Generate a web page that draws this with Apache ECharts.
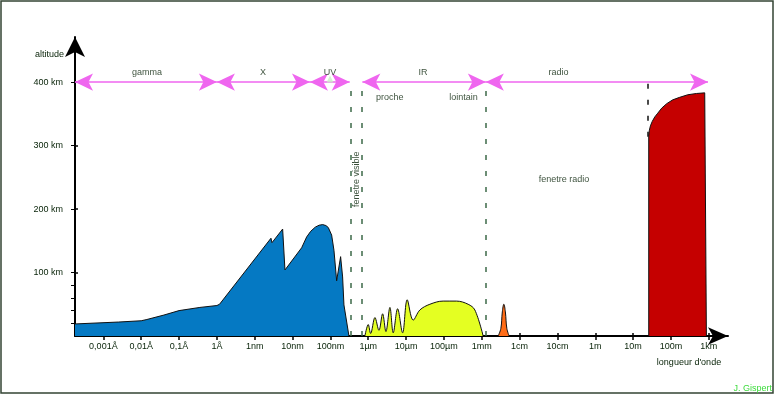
<!DOCTYPE html>
<html><head><meta charset="utf-8">
<script src="https://cdn.jsdelivr.net/npm/echarts@6/dist/echarts.min.js"></script>
<style>html,body{margin:0;padding:0;background:#fff}#c{width:777px;height:396px}</style>
</head><body><div id="c"></div>
<script>
// x values are log10(wavelength in metres), y values are altitude in km
const tickExponents = [-13,-12,-11,-10,-9,-8,-7,-6,-5,-4,-3,-2,-1,0,1,2,3];
const tickLabels = ['0,001Å','0,01Å','0,1Å','1Å','1nm','10nm','100nm','1µm','10µm','100µm','1mm','1cm','10cm','1m','10m','100m','1km'];
const altitudeTicks = [100,200,300,400];
const altitudeMinorTicks = [20,40,60,80];

const blueAbsorption = [[-13.75,19],[-12.6,22],[-12.0,24],[-11.85,26],[-11.4,33],[-11.0,40],[-10.45,45],[-10.0,48],[-9.93,50],
  [-8.571,154],[-8.544,147],[-8.262,168.5],[-8.201,104],[-7.76,139],[-7.628,156],[-7.52,165],[-7.40,171.5],[-7.30,174.5],[-7.205,175.5],[-7.12,174],[-7.057,171],
  [-6.967,159],[-6.906,135],[-6.835,87],[-6.73,125],[-6.677,93],[-6.642,49],[-6.608,52],[-6.51,0]];
const yellowAbsorption = [[-6.088,0],[-6.0,18],[-5.937,4],[-5.823,29],[-5.717,9],[-5.62,35],[-5.533,7],[-5.427,45],[-5.34,5],
  [-5.224,43],[-5.092,5],[-4.97,57],[-4.812,25],[-4.635,41],[-4.371,50],[-4.02,55],[-3.666,55],[-3.36,50],[-3.182,41],[-2.963,0]];
const orangeAbsorption = [[-2.567,0],[-2.495,12],[-2.456,38],[-2.416,50],[-2.376,38],[-2.337,12],[-2.276,0]];
const redAbsorption = [[1.413,0],[1.413,314],[1.429,324],[1.458,331],[1.506,338],[1.572,345],[1.651,351],[1.757,359],[1.889,366],
  [2.047,372],[2.232,376],[2.444,380],[2.673,382],[2.893,383],[2.937,381],[2.937,0]];

const bandNames = ['gamma','X','UV','IR','radio'];
const bandRanges = [[-13.75,-10.0],[-10.0,-7.54],[-7.54,-6.49],[-6.155,-2.892],[-2.892,2.98]];
const bandLabelX = [-11.85,-8.78,-7.01,-4.55,-0.97];
const bandLevel = 400;
const bandLabelLevel = 415;
const windowLines = [-6.466,-6.167,-2.892];
const radioEdge = 1.40;
const radioEdgeTop = 314;
const notes = [
  {text:'proche', x:-5.434, y:376, rotate:0},
  {text:'lointain', x:-3.48, y:376, rotate:0},
  {text:'fenetre radio', x:-0.824, y:247, rotate:0},
  {text:'fenetre visible', x:-6.318, y:247, rotate:90}
];

const TXT = '#072207';
const FONT = 'Liberation Sans';

function area(data, color, smooth) {
  return {type:'line', data, symbol:'none', smooth: smooth || false, silent:true, z:2,
    lineStyle:{color:'#111', width:1}, areaStyle:{color, opacity:1}};
}

const chart = echarts.init(document.getElementById('c'), null, {renderer:'canvas'});
const xCommon = {type:'value', min:-13.75, max:3.508, splitLine:{show:false}, position:'bottom'};
const yCommon = {type:'value', min:0, max:471, splitLine:{show:false}, position:'left'};

chart.setOption({
  animation:false,
  backgroundColor:'#ffffff',
  grid:{left:75, right:49, top:37, bottom:60, containLabel:false},
  xAxis:[
    Object.assign({}, xCommon, {
      name:"longueur d'onde", nameLocation:'end', nameGap:-39,
      nameTextStyle:{color:TXT, fontFamily:FONT, fontSize:9, align:'center', verticalAlign:'top', padding:[22,0,0,0]},
      axisLine:{show:true, onZero:false, symbol:['none','arrow'], symbolSize:[13,20], lineStyle:{color:'#000', width:2}},
      axisTick:{show:true, customValues:tickExponents, length:4, lineStyle:{color:'#000', width:1.5}},
      axisLabel:{show:true, customValues:tickExponents, margin:6, color:TXT, fontFamily:FONT, fontSize:9,
        formatter:v => tickLabels[tickExponents.indexOf(Math.round(v))] || ''}
    }),
    Object.assign({}, xCommon, {
      axisLine:{show:false, onZero:false}, axisLabel:{show:false},
      axisTick:{show:true, inside:true, customValues:tickExponents, length:3, lineStyle:{color:'#000', width:1.5}}
    })
  ],
  yAxis:[
    Object.assign({}, yCommon, {
      name:'altitude', nameLocation:'end', nameGap:-18,
      nameTextStyle:{color:TXT, fontFamily:FONT, fontSize:9, align:'right', verticalAlign:'middle', padding:[0,11,0,0]},
      axisLine:{show:true, onZero:false, symbol:['none','arrow'], symbolSize:[15,20], lineStyle:{color:'#000', width:2}},
      axisTick:{show:true, customValues:altitudeMinorTicks.concat(altitudeTicks), length:4, lineStyle:{color:'#000', width:1}},
      axisLabel:{show:true, customValues:altitudeTicks, margin:12, color:TXT, fontFamily:FONT, fontSize:9,
        formatter:v => v + ' km'}
    }),
    Object.assign({}, yCommon, {
      axisLine:{show:false, onZero:false}, axisLabel:{show:false},
      axisTick:{show:true, inside:true, customValues:altitudeTicks, length:3, lineStyle:{color:'#000', width:1.5}}
    })
  ],
  series:[
    area(blueAbsorption, '#0579c3'),
    area(yellowAbsorption, '#e4ff22', 0.35),
    area(orangeAbsorption, '#ff6c17', 0.4),
    area(redAbsorption, '#c50000'),
    {
      type:'scatter', data:[], silent:true, z:5,
      markLine:{
        silent:true, animation:false, symbol:['arrow','arrow'], symbolSize:[13,18],
        label:{show:false},
        lineStyle:{color:'#ef66ef', width:1.5, type:'solid'},
        data: bandRanges.map(r => [{coord:[r[0], bandLevel]}, {coord:[r[1], bandLevel]}])
      }
    },
    {
      type:'scatter', data:[], silent:true, z:4,
      markLine:{
        silent:true, animation:false, symbol:['none','none'], label:{show:false},
        lineStyle:{color:'#3d6a48', width:1.5, type:[5,11]},
        data: windowLines.map(x => [{coord:[x, 0]}, {coord:[x, bandLevel]}])
          .concat([[{coord:[radioEdge, radioEdgeTop], lineStyle:{color:'#111', width:1.5, type:[5,11]}}, {coord:[radioEdge, bandLevel]}]])
      }
    },
    {
      type:'scatter', silent:true, z:6, symbol:'triangle', symbolSize:[7,7],
      itemStyle:{color:'#c9f0c4'},
      data:[[bandLabelX[2], 405]]
    },
    {
      type:'scatter', silent:true, z:7, symbolSize:1, itemStyle:{color:'rgba(0,0,0,0)'},
      label:{show:true, position:'inside', color:TXT, fontFamily:FONT, fontSize:9,
        formatter:p => p.name},
      data: bandNames.map((n,i) => ({name:n, value:[bandLabelX[i], bandLabelLevel]}))
        .concat(notes.map(n => ({name:n.text, value:[n.x, n.y], label:{rotate:n.rotate}})))
    }
  ],
  graphic:[
    {type:'rect', shape:{x:1, y:1, width:772, height:392}, style:{fill:null, stroke:'#334433', lineWidth:1.5}, z:100, silent:true},
    {type:'text', right:5, bottom:3, style:{text:'J. Gispert', fill:'#3ddc3d', font:'9px "Liberation Sans"'}, z:101, silent:true}
  ]
});
</script>
</body></html>
